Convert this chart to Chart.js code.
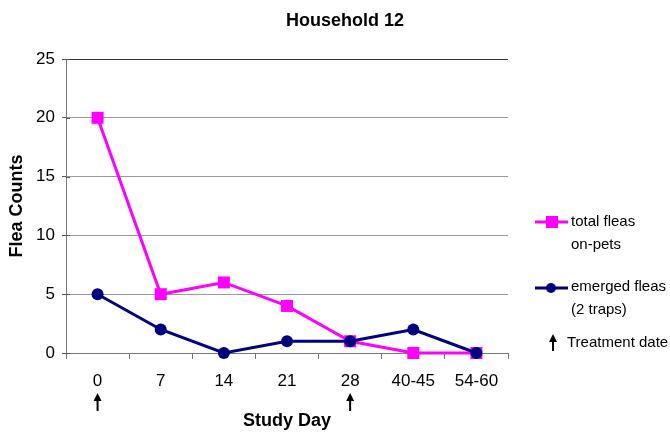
<!DOCTYPE html>
<html>
<head>
<meta charset="utf-8">
<script src="https://cdn.jsdelivr.net/npm/chart.js@4.4.0/dist/chart.umd.min.js"></script>
<style>
  html, body { margin: 0; padding: 0; background: #fff; }
  #wrap { width: 670px; height: 432px; position: relative; }
</style>
</head>
<body>
<div id="wrap"><canvas id="chart" width="670" height="432"></canvas></div>
<script>
const studyDays = ["0", "7", "14", "21", "28", "40-45", "54-60"];
const totalFleas = [20, 5, 6, 4, 1, 0, 0];
const emergedFleas = [5, 2, 0, 1, 1, 2, 0];
const treatmentDays = ["0", "28"];
const yTicks = [0, 5, 10, 15, 20, 25];

const FONT = "'Liberation Sans', Arial, sans-serif";
const PINK = "#FF00FF";
const NAVY = "#000080";

const drawArrow = (ctx, x, yTop, yBottom) => {
  ctx.save();
  ctx.fillStyle = "#000";
  ctx.strokeStyle = "#000";
  ctx.lineWidth = 2;
  ctx.beginPath();
  ctx.moveTo(x, yTop + 6);
  ctx.lineTo(x, yBottom);
  ctx.stroke();
  ctx.beginPath();
  ctx.moveTo(x, yTop);
  ctx.lineTo(x - 4, yTop + 8);
  ctx.lineTo(x + 4, yTop + 8);
  ctx.closePath();
  ctx.fill();
  ctx.restore();
};

// titles, legend and treatment arrows
const extras = {
  id: "extras",
  afterDraw(chart) {
    const ctx = chart.ctx;
    const x = chart.scales.x;
    const y = chart.scales.y;
    const area = chart.chartArea;
    ctx.save();

    // y tick marks also poke a little into the plot
    ctx.strokeStyle = "#555";
    ctx.lineWidth = 1;
    yTicks.forEach((v) => {
      const py = Math.round(y.getPixelForValue(v)) + 0.5;
      ctx.beginPath();
      ctx.moveTo(area.left, py);
      ctx.lineTo(area.left + 4, py);
      ctx.stroke();
    });

    ctx.fillStyle = "#000";
    ctx.textAlign = "center";
    ctx.textBaseline = "middle";
    ctx.font = "bold 18px " + FONT;
    ctx.fillText("Household 12", 345, 21);
    ctx.fillText("Study Day", (area.left + area.right) / 2, 421);
    ctx.save();
    ctx.translate(17, 206);
    ctx.rotate(-Math.PI / 2);
    ctx.fillText("Flea Counts", 0, 0);
    ctx.restore();

    treatmentDays.forEach((d) => {
      drawArrow(ctx, x.getPixelForValue(studyDays.indexOf(d)), 393, 411);
    });

    // legend
    ctx.textAlign = "left";
    ctx.font = "15px " + FONT;
    ctx.lineWidth = 3;
    ctx.strokeStyle = PINK;
    ctx.beginPath(); ctx.moveTo(535, 222); ctx.lineTo(568, 222); ctx.stroke();
    ctx.fillStyle = PINK;
    ctx.fillRect(546, 216, 12, 12);
    ctx.strokeStyle = NAVY;
    ctx.beginPath(); ctx.moveTo(535, 288); ctx.lineTo(568, 288); ctx.stroke();
    ctx.fillStyle = NAVY;
    ctx.beginPath(); ctx.arc(551, 288, 5, 0, Math.PI * 2); ctx.fill();
    ctx.fillStyle = "#000";
    ctx.fillText("total fleas", 571, 222);
    ctx.fillText("on-pets", 571, 245);
    ctx.fillText("emerged fleas", 571, 287);
    ctx.fillText("(2 traps)", 571, 310);
    drawArrow(ctx, 553, 334, 351);
    ctx.fillText("Treatment date", 567, 343);
    ctx.restore();
  }
};

new Chart(document.getElementById("chart"), {
  type: "line",
  data: {
    labels: studyDays,
    datasets: [
      {
        label: "total fleas on-pets",
        data: totalFleas,
        borderColor: PINK,
        backgroundColor: PINK,
        borderWidth: 3,
        pointStyle: "rect",
        pointRadius: 8.5,
        pointHoverRadius: 8.5,
        pointBorderWidth: 0,
        tension: 0,
        clip: false,
        order: 2
      },
      {
        label: "emerged fleas (2 traps)",
        data: emergedFleas,
        borderColor: NAVY,
        backgroundColor: NAVY,
        borderWidth: 3,
        pointStyle: "circle",
        pointRadius: 6,
        pointHoverRadius: 6,
        pointBorderWidth: 0,
        tension: 0,
        clip: false,
        order: 1
      }
    ]
  },
  options: {
    responsive: false,
    animation: false,
    layout: { padding: { top: 59, right: 162, left: 0, bottom: 0 } },
    plugins: { legend: { display: false }, title: { display: false }, tooltip: { enabled: false } },
    scales: {
      x: {
        offset: true,
        grid: { offset: true, drawOnChartArea: false, tickLength: 6, color: "#777" },
        border: { color: "#777", width: 1 },
        ticks: { color: "#000", padding: 12, font: { family: FONT, size: 17 } },
        afterFit(scale) { scale.height = 79; }
      },
      y: {
        min: 0,
        max: 25,
        afterBuildTicks(scale) { scale.ticks = yTicks.map((v) => ({ value: v })); },
        grid: {
          color: (c) => (c.tick && c.tick.value === 25 ? "#333" : "#999"),
          tickColor: "#555",
          tickLength: 4
        },
        border: { color: "#777", width: 1 },
        ticks: { color: "#000", padding: 7, font: { family: FONT, size: 17 } },
        afterFit(scale) { scale.width = 66; }
      }
    }
  },
  plugins: [extras]
});
</script>
</body>
</html>
